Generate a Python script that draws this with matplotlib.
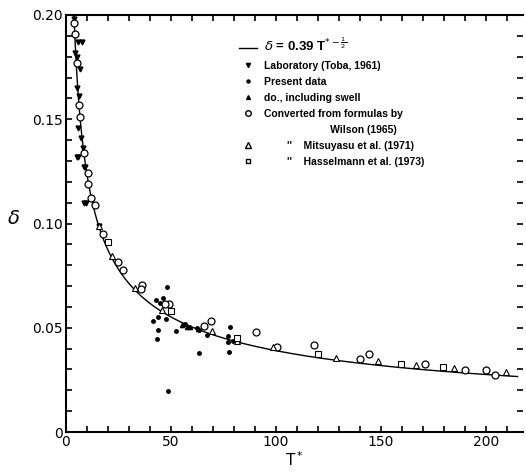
import numpy as np
import matplotlib
matplotlib.use('Agg')
import matplotlib.pyplot as plt
from matplotlib.lines import Line2D
from matplotlib.ticker import MultipleLocator

# fitted curve  delta = 0.39 T*^(-1/2)
fit_coef = 0.39
fit_exp = -0.5
fit_t_min = 3.8
fit_t_max = 215.0

# Laboratory (Toba, 1961)  - filled inverted triangles
toba_t = [3.8, 4.3, 5.3, 5.9, 7.5, 6.7, 5.4, 6.3, 5.9, 7.0, 8.2, 5.9, 5.1, 9.0, 8.6, 9.5, 8.6, 15.9]
toba_d = [0.198, 0.182, 0.180, 0.187, 0.187, 0.174, 0.165, 0.161, 0.146, 0.141, 0.136, 0.132,
          0.132, 0.127, 0.127, 0.110, 0.110, 0.099]

# Present data - small filled dots
present_t = [47.9, 42.9, 46.3, 44.8, 47.5, 41.6, 43.9, 47.5, 43.9, 43.2, 48.7, 52.4, 56.7,
             63.5, 62.3, 63.5, 67.3, 78.1, 77.3, 77.3, 77.6, 79.4]
present_d = [0.0694, 0.0633, 0.0641, 0.0617, 0.0612, 0.0532, 0.0553, 0.0540, 0.0489, 0.0444,
             0.0198, 0.0484, 0.0520, 0.0489, 0.0500, 0.0380, 0.0465, 0.0502, 0.0460, 0.0432,
             0.0385, 0.0435]

# do., including swell - small filled triangles
swell_t = [55.2, 59.0, 57.8, 63.0]
swell_d = [0.0514, 0.0504, 0.0504, 0.0492]

# Converted from formulas by Wilson (1965) - open circles
wilson_t = [3.8, 4.3, 5.4, 6.3, 6.8, 8.7, 10.6, 10.3, 12.0, 13.8, 17.5, 24.9, 27.3, 36.0, 35.6,
            49.2, 47.3, 65.7, 68.9, 90.5, 100.5, 118.0, 139.8, 144.3, 170.8, 189.8, 200.2, 204.1]
wilson_d = [0.196, 0.191, 0.177, 0.157, 0.151, 0.134, 0.124, 0.119, 0.112, 0.109, 0.095, 0.0814,
            0.0777, 0.0705, 0.0684, 0.0614, 0.0612, 0.0508, 0.0532, 0.0478, 0.0409, 0.0417,
            0.0350, 0.0373, 0.0326, 0.0297, 0.0297, 0.0273]

# Mitsuyasu et al. (1971) - open triangles
mitsu_t = [15.7, 21.7, 32.9, 45.6, 69.7, 81.3, 98.5, 128.4, 148.6, 166.5, 184.8, 209.4]
mitsu_d = [0.099, 0.0844, 0.0692, 0.0585, 0.0484, 0.0437, 0.0410, 0.0356, 0.0340, 0.0321,
           0.0305, 0.0289]

# Hasselmann et al. (1973) - open squares
hassel_t = [19.8, 50.0, 81.6, 120.0, 159.7, 179.5]
hassel_d = [0.091, 0.0580, 0.0449, 0.0374, 0.0326, 0.0313]

x_ticks = [0, 50, 100, 150, 200]
y_ticks = [0, 0.05, 0.10, 0.15, 0.20]
y_tick_labels = ['0', '0.05', '0.10', '0.15', '0.20']

fig = plt.figure(figsize=(5.26, 4.74), dpi=100)
ax = fig.add_axes([66 / 526, 42 / 474, 457 / 526, 417 / 474])

t_fit = np.linspace(fit_t_min, fit_t_max, 400)
ax.plot(t_fit, fit_coef * t_fit ** fit_exp, color='black', lw=1.0)

ax.plot(toba_t, toba_d, 'v', color='black', ms=3.5, ls='none')
ax.plot(present_t, present_d, 'o', color='black', ms=2.5, ls='none')
ax.plot(swell_t, swell_d, '^', color='black', ms=3, ls='none')
ax.plot(wilson_t, wilson_d, 'o', mfc='white', mec='black', mew=0.9, ms=5, ls='none')
ax.plot(mitsu_t, mitsu_d, '^', mfc='white', mec='black', mew=0.8, ms=4, ls='none')
ax.plot(hassel_t, hassel_d, 's', mfc='white', mec='black', mew=0.8, ms=3.8, ls='none')

ax.set_xlim(0, 217.6)
ax.set_ylim(0, 0.2)
ax.set_xticks(x_ticks)
ax.set_yticks(y_ticks)
ax.set_yticklabels(y_tick_labels)
ax.xaxis.set_minor_locator(MultipleLocator(10))
ax.yaxis.set_minor_locator(MultipleLocator(0.01))
ax.tick_params(which='both', direction='in', length=4, width=1.2,
               top=True, right=True, labelsize=10, pad=2)
ax.spines['right'].set_visible(False)
for side in ['left', 'bottom', 'top']:
    ax.spines[side].set_linewidth(1.5)

ax.set_xlabel('T$^*$', fontsize=11, labelpad=1)
ax.set_ylabel(r'$\delta$', fontsize=14, rotation=0, labelpad=8)
ax.yaxis.set_label_coords(-0.115, 0.49)

handles = [
    Line2D([], [], color='black', lw=1.0),
    Line2D([], [], marker='v', color='black', ms=3, ls='none'),
    Line2D([], [], marker='o', color='black', ms=2.2, ls='none'),
    Line2D([], [], marker='^', color='black', ms=2.8, ls='none'),
    Line2D([], [], marker='o', mfc='white', mec='black', ms=4, ls='none'),
    Line2D([], [], ls='none'),
    Line2D([], [], marker='^', mfc='white', mec='black', ms=4, ls='none'),
    Line2D([], [], marker='s', mfc='white', mec='black', ms=3.5, ls='none'),
]
labels = [
    r'$\delta$ = 0.39 T$^{*-\frac{1}{2}}$',
    'Laboratory (Toba, 1961)',
    'Present data',
    'do., including swell',
    'Converted from formulas by',
    '                       Wilson (1965)',
    "        ''    Mitsuyasu et al. (1971)",
    "        ''    Hasselmann et al. (1973)",
]
leg = ax.legend(handles, labels, loc='upper left', bbox_to_anchor=(234 / 526, 1 - 32 / 474),
                bbox_transform=fig.transFigure, frameon=False,
                prop={'family': 'Liberation Sans', 'weight': 'bold', 'size': 7.5},
                handlelength=1.75, handletextpad=0.65, labelspacing=0.58, borderpad=0)
leg.get_texts()[0].set_fontsize(9.5)

fig.savefig('out.png', dpi=100)
